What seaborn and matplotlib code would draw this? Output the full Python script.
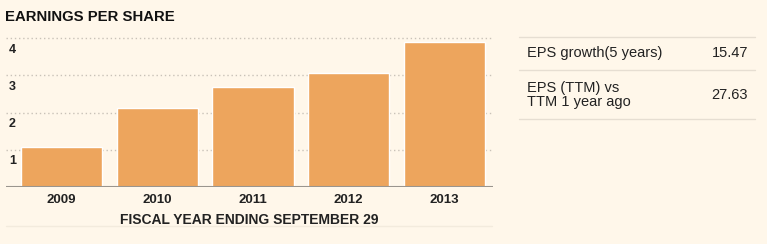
import matplotlib
matplotlib.use("Agg")
import matplotlib.pyplot as plt
import matplotlib.transforms as mtransforms
from matplotlib.lines import Line2D
import seaborn as sns
import pandas as pd

# ---- data ----
years = ["2009", "2010", "2011", "2012", "2013"]
eps = [1.07, 2.12, 2.68, 3.05, 3.89]
yticks = [1, 2, 3, 4]
title = "EARNINGS PER SHARE"
xlabel = "FISCAL YEAR ENDING SEPTEMBER 29"
table_labels = ["EPS growth(5 years)", "EPS (TTM) vs\nTTM 1 year ago"]
table_values = ["15.47", "27.63"]

BG = "#FFF7EA"
BAR = "#EDA55D"
TXT = "#222222"

sns.set_theme(style="white")
plt.rcParams["font.family"] = ["Liberation Sans", "DejaVu Sans"]

W, H = 767, 244
fig = plt.figure(figsize=(W / 100, H / 100), dpi=100, facecolor=BG)

def fx(px):
    return px / W

def fy(py):
    return 1 - py / H

# axes: left 6px, right 493px, baseline at y=187px, top at ylim 4.2
ymax = 4.2
base_px, unit_px = 187, 37.25
top_px = base_px - ymax * unit_px
ax = fig.add_axes([fx(6), fy(base_px), fx(493) - fx(6), (base_px - top_px) / H])
ax.set_facecolor(BG)

df = pd.DataFrame({"year": years, "eps": eps})
sns.barplot(data=df, x="year", y="eps", color=BAR, width=0.85, ax=ax,
            saturation=1, zorder=2)
ax.set_xlim(-0.58, 4.507)
ax.set_ylim(0, ymax)

for s in ax.spines.values():
    s.set_visible(False)
for t in yticks:
    ax.axhline(t, color="#C9C2B8", lw=1.0, ls=(0, (1, 2)), zorder=1)
ax.axhline(0, color="#9A958E", lw=1.5, zorder=3)

ax.set_yticks([])
ax.set_ylabel("")
ax.set_xlabel(xlabel, fontsize=10, fontweight="bold", color=TXT, labelpad=5)
ax.tick_params(axis="x", length=0, pad=5)
for lab in ax.get_xticklabels():
    lab.set_fontsize(9.5)
    lab.set_fontweight("bold")
    lab.set_color(TXT)

off = mtransforms.ScaledTranslation(2 / 72, -4 / 72, fig.dpi_scale_trans)
trans = mtransforms.blended_transform_factory(ax.transAxes, ax.transData) + off
for t in yticks:
    ax.text(0, t, str(t), transform=trans, ha="left", va="top",
            fontsize=9, fontweight="bold", color=TXT, zorder=1)

# title
fig.text(fx(5), fy(17), title, ha="left", va="center", fontsize=10.7,
         fontweight="bold", color="#111111")

# faint line below x-label
fig.add_artist(Line2D([fx(6), fx(492)], [fy(226), fy(226)], color="#F3EBDD", lw=1))

# right table
for ypx in [37, 70, 119]:
    fig.add_artist(Line2D([fx(519), fx(755)], [fy(ypx), fy(ypx)],
                          color="#E6DED2", lw=1))
row_y = [53, 95]
for lab, val, ypx in zip(table_labels, table_values, row_y):
    fig.text(fx(527), fy(ypx), lab, ha="left", va="center", fontsize=10.5,
             color=TXT, linespacing=1.05)
    fig.text(fx(748), fy(ypx), val, ha="right", va="center", fontsize=10.5,
             color=TXT)

fig.savefig("out.png", dpi=100, facecolor=BG)
